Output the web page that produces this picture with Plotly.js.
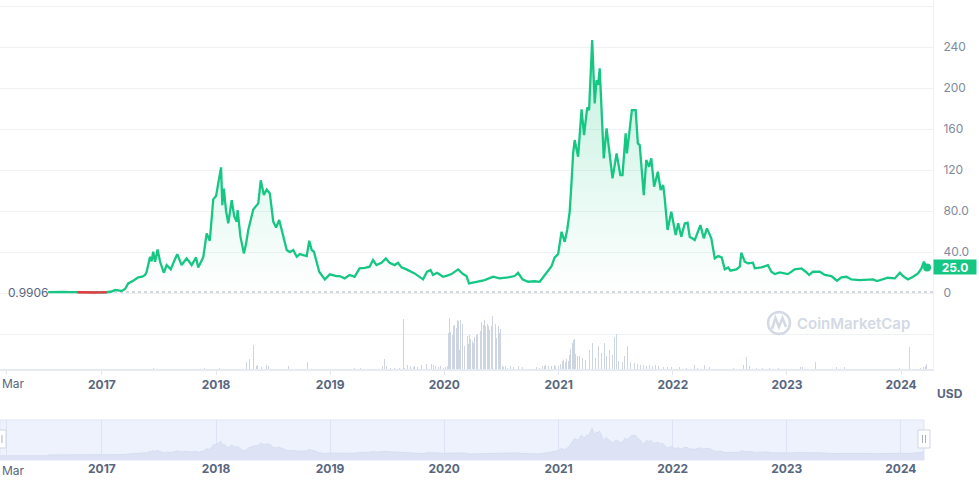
<!DOCTYPE html>
<html>
<head>
<meta charset="utf-8">
<script src="https://cdn.plot.ly/plotly-3.0.1.min.js"></script>
<style>
  html, body { margin: 0; padding: 0; background: #ffffff; }
  #chart { width: 979px; height: 493px; }
</style>
</head>
<body>
<div id="chart"></div>
<script>
// ---------- DATA ----------
const priceDates = [
'2016-07-13','2016-08-05','2016-08-28','2016-09-21','2016-10-15','2016-11-01','2016-11-20','2016-12-10','2016-12-28','2017-01-16',
'2017-01-24','2017-02-01','2017-02-12','2017-02-20','2017-03-05','2017-03-16','2017-03-26','2017-04-11','2017-04-27','2017-05-10',
'2017-05-19','2017-05-24','2017-06-04','2017-06-09','2017-06-14','2017-06-20','2017-06-28','2017-07-06','2017-07-12','2017-07-18',
'2017-07-27','2017-08-09','2017-08-17','2017-08-30','2017-09-13','2017-09-29','2017-10-15','2017-10-29','2017-11-05','2017-11-21',
'2017-12-02','2017-12-12','2017-12-23','2018-01-01','2018-01-08','2018-01-17','2018-01-21','2018-01-26','2018-02-02','2018-02-09',
'2018-02-20','2018-02-28','2018-03-08','2018-03-11','2018-03-20','2018-03-31','2018-04-07','2018-04-14','2018-04-30','2018-05-16',
'2018-05-24','2018-06-03','2018-06-12','2018-06-22','2018-07-03','2018-07-12','2018-07-22','2018-08-02','2018-08-15','2018-08-25',
'2018-09-05','2018-09-16','2018-09-26','2018-10-07','2018-10-18','2018-10-26','2018-11-03','2018-11-10','2018-11-27','2018-12-15',
'2018-12-31','2019-01-21','2019-01-31','2019-02-16','2019-03-04','2019-03-20','2019-04-05','2019-04-22','2019-05-07','2019-05-18',
'2019-05-29','2019-06-14','2019-06-28','2019-07-10','2019-07-26','2019-08-06','2019-08-17','2019-09-02','2019-09-15','2019-09-28',
'2019-10-25','2019-11-07','2019-11-18','2019-11-26','2019-12-09','2019-12-28','2020-01-10','2020-01-24','2020-02-14','2020-03-01',
'2020-03-12','2020-03-20','2020-04-13','2020-05-09','2020-06-05','2020-06-26','2020-07-23','2020-08-13','2020-08-24','2020-09-07',
'2020-09-25','2020-10-16','2020-11-01','2020-11-23','2020-12-09','2020-12-19','2020-12-30','2021-01-10','2021-01-20','2021-01-28',
'2021-02-05','2021-02-11','2021-02-16','2021-02-21','2021-03-04','2021-03-15','2021-03-23','2021-04-02','2021-04-08','2021-04-18',
'2021-04-26','2021-05-02','2021-05-07','2021-05-12','2021-05-25','2021-06-03','2021-06-11','2021-06-22','2021-07-05','2021-07-17',
'2021-07-24','2021-08-03','2021-08-07','2021-08-16','2021-08-23','2021-09-04','2021-09-11','2021-09-17','2021-09-30','2021-10-08',
'2021-10-17','2021-10-24','2021-11-02','2021-11-14','2021-11-23','2021-12-01','2021-12-06','2021-12-15','2021-12-27','2022-01-10',
'2022-01-18','2022-01-28','2022-02-08','2022-02-17','2022-02-24','2022-03-12','2022-03-30','2022-04-10','2022-04-20','2022-05-04',
'2022-05-15','2022-05-26','2022-06-06','2022-06-16','2022-06-27','2022-07-04','2022-07-23','2022-08-03','2022-08-08','2022-08-19',
'2022-08-29','2022-09-14','2022-09-20','2022-10-11','2022-11-01','2022-11-12','2022-11-23','2022-12-09','2023-01-04','2023-01-26',
'2023-02-16','2023-03-02','2023-03-13','2023-03-25','2023-04-16','2023-05-02','2023-05-23','2023-06-10','2023-06-24','2023-07-10',
'2023-07-26','2023-08-22','2023-09-12','2023-10-03','2023-10-16','2023-11-04','2023-11-20','2023-12-12','2023-12-28','2024-01-07',
'2024-01-23','2024-02-08','2024-02-24','2024-03-06','2024-03-14','2024-03-20','2024-03-24'
];
const priceValues = [
0.99,1.3,1.2,0.99,0.8,0.5,0.45,0.55,0.6,0.8,
1.0,1.5,3,2.5,2,4,9.4,12,15.3,16,
17.6,20.8,35.4,31,40.3,30.5,42.6,30.5,25,19.8,
27.3,23.1,29,38,27.3,33.8,27.3,34.8,25,34.8,
58.2,51,91.4,94.6,107,122.6,85.8,102,80,68,
90.7,75,69.6,81,55,38.7,48,61.5,81.6,87.5,
110,95.6,101,97.2,69.6,64,71.2,56.6,42,40,
42,35.4,38,37,36.1,51,42,40.3,20.8,13.3,
18.2,16.6,16.6,14.3,17.6,15.9,24.1,24.5,25.7,32.2,
27.3,29.6,33.8,29.6,27.3,29.6,25,23.1,21,19.2,
13.3,20.8,22.4,17.6,19.8,15.9,17,18.5,23.1,18.5,
16.6,9.4,11,12.7,15.9,14.3,15.3,16.6,19.8,13.3,
11,11.5,11,19.8,26.3,34.8,38,59.8,50,61.5,
79.3,108.6,136.3,149.3,133,179.2,154,181,178.5,246.8,
185,207.8,203,219.2,131.4,160.7,137.9,111.9,136.3,115.1,
115,155.8,136.3,162.2,178.5,178.5,146,144.4,95.6,129.8,
123.2,131.4,103.7,118.3,100.5,105.4,92.4,61.5,79.3,56.6,
68,54.9,68,68.6,54.9,51.7,66.3,53.4,63.1,53.4,
33.8,36.1,34.8,23.1,25,21.8,23.1,25.7,39.3,30.5,
29,29.6,24.1,25,27.3,20.8,18.5,20.2,18.5,23.1,
24.1,20.8,17.6,20.8,20.8,17.6,16.6,12,15.3,15.9,
13.3,12.7,12.7,13.3,11.7,13.3,14.9,14.3,19.8,16.6,
13.3,15.9,19.2,24.1,30.5,26.3,25
];
// part of the line below the opening price (drawn red)
const belowDates = ['2016-10-15','2016-11-01','2016-11-20','2016-12-10','2016-12-28','2017-01-16'];
const belowValues = [0.8,0.5,0.45,0.55,0.6,0.8];

const openPrice = 0.9906;
const lastPriceLabel = '25.0';

const volDates = [
'2017-06-16','2017-11-26','2017-12-19','2018-01-13','2018-02-05','2018-04-07','2018-04-19','2018-05-01','2018-05-09','2018-05-15',
'2018-05-25','2018-06-10','2018-06-19','2018-06-29','2018-08-22','2018-10-19','2019-03-20','2019-04-09','2019-06-16','2019-06-24',
'2019-06-29','2019-07-14','2019-07-26','2019-08-11','2019-08-22','2019-08-27','2019-09-04','2019-09-10','2019-09-15','2019-09-23',
'2019-09-29','2019-10-06','2019-10-12','2019-10-20','2019-10-28','2019-11-05','2019-11-13','2019-11-21','2019-11-26','2019-12-04',
'2019-12-12','2019-12-19','2019-12-28','2020-01-05','2020-01-11','2020-01-14','2020-01-17','2020-01-21','2020-01-26','2020-01-30',
'2020-02-04','2020-02-09','2020-02-12','2020-02-16','2020-02-20','2020-02-23','2020-02-29','2020-03-04','2020-03-07','2020-03-14',
'2020-03-18','2020-03-22','2020-03-26','2020-03-31','2020-04-03','2020-04-07','2020-04-13','2020-04-17','2020-04-21','2020-04-25',
'2020-04-30','2020-05-04','2020-05-08','2020-05-12','2020-05-17','2020-05-21','2020-05-25','2020-05-31','2020-06-04','2020-06-08',
'2020-06-12','2020-06-17','2020-06-21','2020-06-25','2020-06-29','2020-07-04','2020-07-09','2020-07-15','2020-07-22','2020-07-31',
'2020-08-08','2020-08-25','2020-08-30','2020-09-07','2020-09-15','2020-10-22','2020-11-01','2020-11-10','2020-11-15','2020-11-21',
'2020-11-28','2020-12-04','2020-12-10','2020-12-17','2020-12-23','2021-01-01','2021-01-06','2021-01-13','2021-01-17','2021-01-22',
'2021-01-27','2021-02-01','2021-02-05','2021-02-09','2021-02-14','2021-02-18','2021-02-21','2021-02-25','2021-03-03','2021-03-08',
'2021-03-17','2021-03-27','2021-04-09','2021-04-20','2021-04-29','2021-05-09','2021-05-18','2021-05-28','2021-06-03','2021-06-11',
'2021-06-21','2021-06-29','2021-07-05','2021-07-12','2021-07-24','2021-07-31','2021-08-08','2021-08-18','2021-08-31','2021-09-11',
'2021-09-20','2021-09-30','2021-10-09','2021-10-19','2021-10-29','2021-11-07','2021-11-17','2021-12-01','2021-12-16','2021-12-28',
'2022-01-23','2022-02-14','2022-03-10','2022-03-20','2022-04-13','2022-04-27','2022-07-13','2022-08-07','2022-08-16','2022-08-26',
'2022-09-02','2022-09-26','2022-10-15','2022-11-07','2022-12-04','2023-02-13','2023-02-19','2023-04-01','2023-06-09','2023-07-05',
'2023-07-12','2023-12-28','2024-01-28','2024-03-04','2024-03-12','2024-03-18','2024-03-23'
];
const volValues = [
1,1.5,1.5,1.5,1.2,7,10,24,3,4,
2,4,3,2,3,7,1.5,1.5,2.7,10,
3,1,1,1,50,1,4,2.7,3.3,2,
3.3,2.3,3,3.7,4.3,5.3,4.3,5,4,2.7,
1.7,2.7,1.3,1.7,2.7,36,51,37,34,43,
44,41,49,48,19,49,45,45,23,33,
25,34,30,28,26,32,34,35,35,38,
47,44,49,43,45,43,39,43,53,45,
45,31,43,36,40,2.7,2,2.7,1.5,3.3,
2,3.3,3.7,1.7,1.3,2,1.3,2.7,3.3,4.3,
2.7,27,2.7,4,2.7,3.3,5,8.3,9.3,7,
10,7.7,14.3,20,26,28.7,30,15.3,13.3,13,
11,9,19,26,11,23,16,26,13,19,
14,32,35,8,7,13,23,7,6,5,
4,4,3.5,4,3,4,3,2.5,2,2,
2,1.5,4,1.5,4,2,1,3.7,4.3,11.7,
2.7,1.5,1.5,1.3,1.3,2,2,6.7,1.7,1.7,
3.3,1.3,21.7,1.3,2,2.7,4.7
];

const yearTickVals = ['2016-03-01','2017-01-01','2018-01-01','2019-01-01','2020-01-01','2021-01-01','2022-01-01','2023-01-01','2024-01-01'];
const yearTickText = ['','<b>2017</b>','<b>2018</b>','<b>2019</b>','<b>2020</b>','<b>2021</b>','<b>2022</b>','<b>2023</b>','<b>2024</b>'];
const firstTickLabel = 'Mar';
const priceTickVals = [-40,0,40,80,120,160,200,240,280];
const priceTickText = ['','0','40.0','80.0','120','160','200','240',''];

// ---------- STYLE ----------
const GREEN = '#16c784';
const RED = '#ea3943';
const FONT = 'Inter, "Noto Sans", sans-serif';
const W = 979, H = 493, PLOT_W = 933, PLOT_H = 460;
const px = x => x / PLOT_W;
const py = y => (PLOT_H - y) / PLOT_H;

const traces = [
  {
    type: 'bar', x: volDates, y: volValues, yaxis: 'y2', xaxis: 'x',
    marker: { color: '#cdd4e2', line: { width: 0 } },
    width: 3.0 * 86400000, hoverinfo: 'skip', showlegend: false
  },
  {
    type: 'scatter', mode: 'lines', x: priceDates, y: priceValues,
    line: { color: GREEN, width: 2.3, shape: 'linear' },
    fill: 'tozeroy',
    fillgradient: { type: 'vertical', colorscale: [[0, 'rgba(22,199,132,0)'], [1, 'rgba(22,199,132,0.26)']] },
    hoverinfo: 'skip', showlegend: false
  },
  {
    type: 'scatter', mode: 'lines', x: belowDates, y: belowValues,
    line: { color: RED, width: 2.3 }, hoverinfo: 'skip', showlegend: false
  },
  {
    type: 'scatter', mode: 'markers',
    x: [priceDates[priceDates.length - 1]], y: [priceValues[priceValues.length - 1]],
    marker: { color: GREEN, size: 8 }, hoverinfo: 'skip', showlegend: false
  },
  {
    type: 'scatter', mode: 'lines', x: priceDates, y: priceValues, xaxis: 'x2', yaxis: 'y3',
    line: { color: '#d3daee', width: 0.8 }, fill: 'tozeroy', fillcolor: '#dde3f4',
    hoverinfo: 'skip', showlegend: false
  }
];

const shapes = [
  // navigator background
  { type: 'rect', xref: 'x2 domain', yref: 'y3 domain', x0: 0, x1: 1, y0: 0, y1: 1,
    fillcolor: '#eef2fd', line: { color: '#dfe5f6', width: 1 }, layer: 'below' },
  // navigator base band
  { type: 'rect', xref: 'x2 domain', yref: 'y3', x0: 0, x1: 1, y0: -45, y1: 0,
    fillcolor: '#dde3f4', line: { width: 0 }, layer: 'below' },
  // opening price dotted line
  { type: 'line', xref: 'paper', yref: 'y', x0: px(48), x1: 1, y0: openPrice, y1: openPrice,
    line: { color: '#a6b0c3', width: 1, dash: 'dot' }, layer: 'below' },
  // watermark logo
  { type: 'circle', xref: 'paper', yref: 'paper', x0: px(768), x1: px(790), y0: py(334), y1: py(312),
    line: { color: '#d3d9e5', width: 2.5 } },
  { type: 'path', xref: 'paper', yref: 'paper',
    path: `M ${px(772)} ${py(329)} L ${px(775.5)} ${py(318)} L ${px(779)} ${py(327)} L ${px(782.5)} ${py(318)} L ${px(786)} ${py(327)}`,
    line: { color: '#d3d9e5', width: 2.5 } },
  // navigator handles
  { type: 'rect', xref: 'paper', yref: 'paper', x0: px(-6), x1: px(6), y0: py(448), y1: py(430),
    fillcolor: '#ffffff', line: { color: '#cfd6e2', width: 1 } },
  { type: 'line', xref: 'paper', yref: 'paper', x0: px(2), x1: px(2), y0: py(443), y1: py(435),
    line: { color: '#a6b0c3', width: 1 } },
  { type: 'rect', xref: 'paper', yref: 'paper', x0: px(918), x1: px(930), y0: py(448), y1: py(430),
    fillcolor: '#ffffff', line: { color: '#cfd6e2', width: 1 } },
  { type: 'line', xref: 'paper', yref: 'paper', x0: px(922.5), x1: px(922.5), y0: py(443), y1: py(435),
    line: { color: '#a6b0c3', width: 1 } },
  { type: 'line', xref: 'paper', yref: 'paper', x0: px(925.5), x1: px(925.5), y0: py(443), y1: py(435),
    line: { color: '#a6b0c3', width: 1 } }
];

const annotations = [
  { xref: 'paper', yref: 'y', x: px(6), y: openPrice, xanchor: 'left', yanchor: 'middle',
    text: openPrice.toString(), showarrow: false, font: { family: FONT, size: 12, color: '#58667e' } },
  { xref: 'paper', yref: 'y', x: 1, y: priceValues[priceValues.length - 1], xanchor: 'left', yanchor: 'middle',
    text: '<b>' + lastPriceLabel + '</b>', showarrow: false, bgcolor: GREEN, borderpad: 1,
    width: 40, height: 12, font: { family: FONT, size: 12, color: '#ffffff' } },
  { xref: 'paper', yref: 'paper', x: px(950), y: py(393), xanchor: 'center', yanchor: 'middle',
    text: '<b>USD</b>', showarrow: false, font: { family: FONT, size: 12, color: '#58667e' } },
  { xref: 'paper', yref: 'paper', x: px(795), y: py(323), xanchor: 'left', yanchor: 'middle',
    text: 'CoinMarketCap', showarrow: false, font: { family: FONT, size: 15, color: '#d3d9e5', weight: 600 } },
  // first (partial-month) tick labels, placed inside the left edge
  { xref: 'paper', yref: 'paper', x: 0, y: py(383), xanchor: 'left', yanchor: 'middle',
    text: firstTickLabel, showarrow: false, font: { family: FONT, size: 12, color: '#58667e' } },
  { xref: 'paper', yref: 'paper', x: 0, y: py(470), xanchor: 'left', yanchor: 'middle',
    text: firstTickLabel, showarrow: false, font: { family: FONT, size: 12, color: '#58667e' } }
];

const layout = {
  width: W, height: H,
  margin: { l: 0, r: W - PLOT_W, t: 0, b: H - PLOT_H, pad: 0 },
  paper_bgcolor: '#ffffff', plot_bgcolor: 'rgba(0,0,0,0)',
  showlegend: false, hovermode: false, bargap: 0,
  font: { family: FONT, color: '#58667e', size: 12 },
  xaxis: {
    type: 'date', domain: [0, 1], anchor: 'y',
    range: ['2016-02-10', '2024-04-12'],
    tickmode: 'array', tickvals: yearTickVals, ticktext: yearTickText,
    ticks: 'outside', ticklen: 4, tickcolor: '#e3e8f0', tickwidth: 1,
    showgrid: false, zeroline: false,
    showline: true, linecolor: '#e6eaf1', linewidth: 2,
    tickfont: { family: FONT, size: 12, color: '#58667e' }, fixedrange: true
  },
  yaxis: {
    domain: [py(369), 1], anchor: 'x', side: 'right',
    range: [-74.1, 285.9],
    tickmode: 'array', tickvals: priceTickVals, ticktext: priceTickText,
    showgrid: true, gridcolor: '#eff2f5', gridwidth: 1, zeroline: false,
    showline: true, linecolor: '#eff2f5', linewidth: 1,
    ticks: '', ticklabelstandoff: 7,
    tickfont: { family: FONT, size: 12, color: '#808a9d' }, fixedrange: true
  },
  yaxis2: {
    overlaying: 'y', anchor: 'x', range: [0, 369], visible: false, fixedrange: true
  },
  xaxis2: {
    type: 'date', domain: [0, px(924)], anchor: 'y3',
    range: ['2016-02-10', '2024-03-15'],
    tickmode: 'array', tickvals: yearTickVals, ticktext: yearTickText,
    ticks: '', showgrid: true, gridcolor: '#dde3f3', gridwidth: 1, zeroline: false, showline: false,
    tickfont: { family: FONT, size: 12, color: '#58667e' }, fixedrange: true
  },
  yaxis3: {
    domain: [0, py(420)], anchor: 'x2', range: [-45, 318],
    showgrid: false, zeroline: false, showticklabels: false, showline: false, fixedrange: true
  },
  shapes: shapes,
  annotations: annotations
};

Plotly.newPlot('chart', traces, layout, { staticPlot: true, displayModeBar: false });
</script>
</body>
</html>
